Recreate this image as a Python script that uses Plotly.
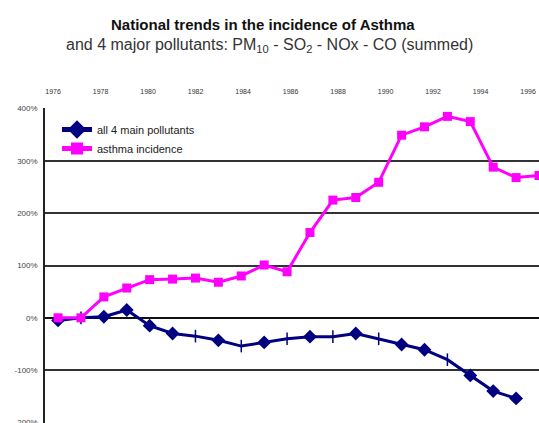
import plotly.graph_objects as go

years = list(range(1976, 1998))
asthma = [0, 0, 40, 57, 73, 74, 76, 68, 80, 101, 88, 163, 225, 230, 259, 349, 365, 385, 375, 288, 268, 272]
pollutant_years = list(range(1976, 1997))
pollutants = [-5, 0, 2, 15, -15, -30, -35, -43, -54, -47, -40, -36, -36, -30, -40, -51, -61, -80, -110, -140, -154]
tick_years = list(range(1976, 1997, 2))
y_ticks = [-200, -100, 0, 100, 200, 300, 400]
y_tick_labels = ["-200%", "-100%", "0%", "100%", "200%", "300%", "400%"]

# body margin is removed in the page (post_script), so figure = window
OFF = 0
W, H = 539 - OFF, 423 - OFF
ML, MR, MT, MB = 45 - OFF, 0, 108 - OFF, 0
PH = H - MT - MB
PW = W - ML - MR

def py(p):
    return (H - MB - (p - OFF)) / PH

def px(p):
    return (p - OFF - ML) / PW

NARROW = "Liberation Sans Narrow, Arial Narrow, Liberation Sans, Arial, sans-serif"

cross_years = {1977, 1982, 1984, 1986, 1988, 1990, 1993}
poll_symbols = ["line-ns-open" if y in cross_years else "diamond" for y in pollutant_years]

fig = go.Figure()
fig.add_trace(go.Scatter(
    x=pollutant_years, y=pollutants, name="all 4 main pollutants",
    mode="lines+markers",
    line=dict(color="#000080", width=3),
    marker=dict(symbol=poll_symbols, size=9, color="#000080",
                line=dict(color="#000080", width=1.5)),
    cliponaxis=False,
))
fig.add_trace(go.Scatter(
    x=years, y=asthma, name="asthma incidence",
    mode="lines+markers",
    line=dict(color="#FF00FF", width=3),
    marker=dict(symbol="square", size=9, color="#FF00FF"),
    cliponaxis=False,
))
fig.add_trace(go.Scatter(x=tick_years, y=[None] * len(tick_years), xaxis="x2",
                         showlegend=False, hoverinfo="skip"))

fig.update_layout(
    width=W, height=H,
    margin=dict(l=ML, r=MR, t=MT, b=MB, autoexpand=False),
    paper_bgcolor="white", plot_bgcolor="white",
    showlegend=True,
    legend=dict(x=px(57), y=py(115), xanchor="left", yanchor="top",
                bgcolor="rgba(0,0,0,0)",
                font=dict(family=NARROW, size=11, color="#222"),
                tracegroupgap=2, itemwidth=30, itemsizing="constant"),
    xaxis=dict(range=[1975.43, 1997.0], showticklabels=False, showgrid=False,
               zeroline=False, ticks="", automargin=False),
    xaxis2=dict(overlaying="x", side="top", range=[1975.66, 1996.46],
                tickvals=tick_years, ticktext=[str(y) for y in tick_years],
                tickfont=dict(family=NARROW, size=7, color="#333"),
                showgrid=False, zeroline=False, ticks="", ticklabelstandoff=12,
                showline=False, automargin=False, ticklabeloverflow="allow"),
    yaxis=dict(range=[-201, 401], tickvals=y_ticks, ticktext=y_tick_labels,
               tickfont=dict(family=NARROW, size=8, color="#444"),
               showgrid=True, gridcolor="#333", gridwidth=1.5,
               zeroline=True, zerolinecolor="#111", zerolinewidth=2,
               showline=True, linecolor="#222", linewidth=1.5,
               ticks="", ticklabelstandoff=4, automargin=False,
               ticklabeloverflow="allow"),
    annotations=[
        dict(text="<b>National trends in the incidence of Asthma</b>",
             xref="paper", yref="paper", x=px(263), y=py(24),
             xanchor="center", yanchor="middle", showarrow=False,
             font=dict(family="Liberation Sans, Arial, sans-serif", size=15, color="#111")),
        dict(text="and 4 major pollutants: PM<sub>10</sub> - SO<sub>2</sub> - NOx - CO (summed)",
             xref="paper", yref="paper", x=px(269), y=py(45),
             xanchor="center", yanchor="middle", showarrow=False,
             font=dict(family="Liberation Sans, Arial, sans-serif", size=16, color="#333")),
    ],
)

fig.write_html("out.html",
               config={"displayModeBar": False},
               post_script="document.body.style.margin='0';document.body.style.overflow='hidden';")
